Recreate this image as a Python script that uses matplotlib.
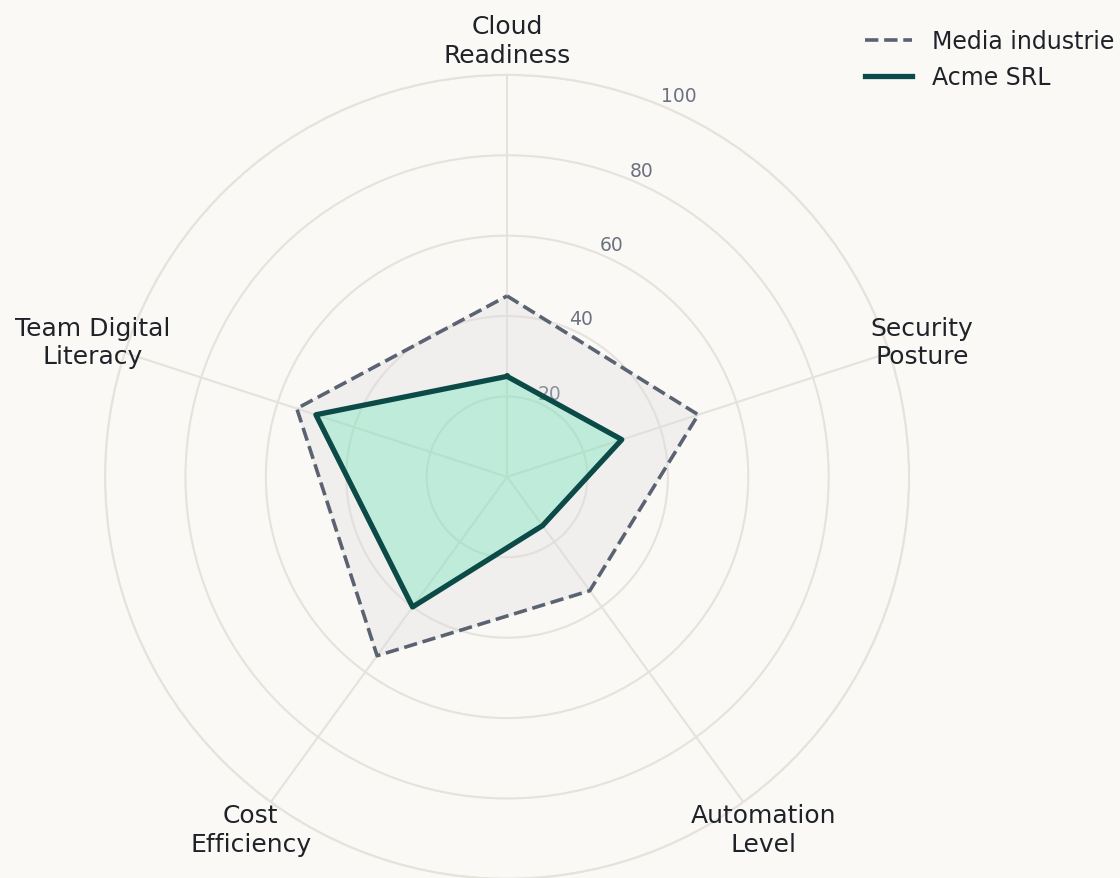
import numpy as np
import matplotlib
matplotlib.use("Agg")
from matplotlib import pyplot as plt

# Data
categories = ["Cloud\nReadiness", "Security\nPosture", "Automation\nLevel",
              "Cost\nEfficiency", "Team Digital\nLiteracy"]
industry_label = "Media industrie"
industry_values = [45, 50, 35, 55, 55]
company_label = "Acme SRL"
company_values = [25, 30, 15, 40, 50]
r_ticks = [20, 40, 60, 80, 100]

# Colours
BG = "#faf9f6"
GRID = "#e6e2dc"
TEXT = "#1f2329"
TICK = "#6b7280"
IND_LINE = "#5b6373"
ACME_LINE = "#0b4a46"

n = len(categories)
angles = np.linspace(0, 2 * np.pi, n, endpoint=False)
angles_c = np.append(angles, angles[0])
ind_c = industry_values + industry_values[:1]
acme_c = company_values + company_values[:1]

fig = plt.figure(figsize=(11.2, 8.79), dpi=100, facecolor=BG)
ax = fig.add_axes([0.09375, -0.001, 0.718, 0.9147], polar=True)
ax.set_facecolor(BG)
ax.set_theta_zero_location("N")
ax.set_theta_direction(-1)
ax.set_ylim(0, 100)

# Industry average
ax.fill(angles_c, ind_c, color="#d9dadc", alpha=0.3, zorder=2)
ax.plot(angles_c, ind_c, color=IND_LINE, lw=2.6, ls="--", zorder=4,
        label=industry_label)

# Company
ax.fill(angles_c, acme_c, color="#50e3ad", alpha=0.3, zorder=3)
ax.plot(angles_c, acme_c, color=ACME_LINE, lw=3.8, zorder=5,
        label=company_label)

# Grid / ticks
ax.set_xticks(angles)
ax.set_xticklabels([])
ax.set_yticks(r_ticks)
ax.set_yticklabels([str(t) for t in r_ticks], color=TICK, fontsize=13.5)
ax.set_rlabel_position(22.5)
ax.grid(color=GRID, lw=1.5)
ax.spines["polar"].set_color(GRID)
ax.spines["polar"].set_linewidth(1.5)
ax.tick_params(axis="x", length=0)

for a, lab in zip(angles, categories):
    ax.text(a, 108.5, lab, ha="center", va="center", fontsize=18,
            color=TEXT, clip_on=False, linespacing=1.25)

fig.legend(loc="upper left", bbox_to_anchor=(0.753, 0.990), frameon=False,
           fontsize=17, labelcolor=TEXT, handlelength=2.0, handletextpad=0.85)

fig.savefig("out.png", dpi=100, facecolor=BG)
